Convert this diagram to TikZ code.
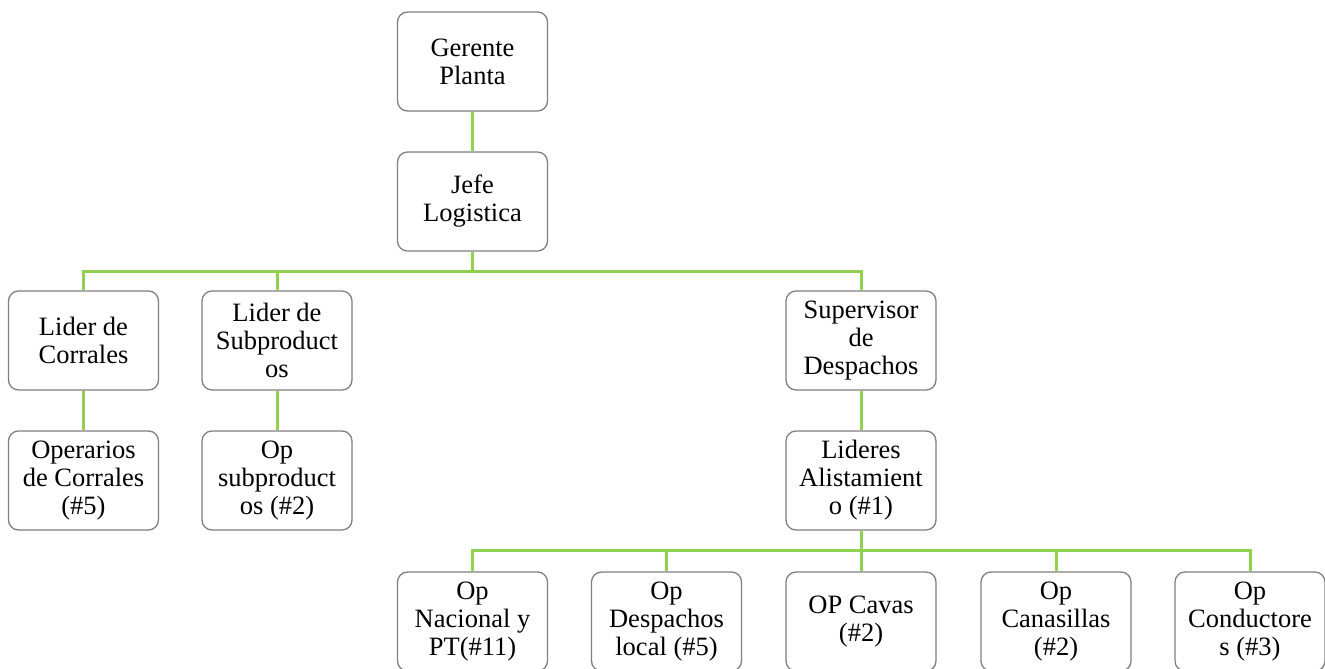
\documentclass[tikz,border=0pt]{standalone}
\usepackage{fontspec}
\newfontfamily\boxfont{LiberationSerif-Regular.ttf}
\begin{document}
\begin{tikzpicture}[x=1pt,y=-1pt]
\definecolor{linkgreen}{HTML}{92D050}
\definecolor{boxgray}{HTML}{7F7F7F}
\tikzset{
  orgbox/.style={draw=boxgray, line width=1.3pt, fill=white, rounded corners=10pt,
    minimum width=150pt, minimum height=99pt, inner sep=0pt, align=center,
    font=\boxfont\fontsize{26.5}{28}\selectfont},
  link/.style={draw=linkgreen, line width=3pt},
}
\useasboundingbox (0,0) rectangle (1325,669);

\coordinate (busA) at (472.5,271);
\coordinate (busB) at (861,550);

% top of the chart
\node[orgbox] (gerente) at (472.5,61.5) {Gerente\\Planta};
\node[orgbox] (jefe) at (472.5,201.5) {Jefe\\Logistica};

% second level
\node[orgbox] (corrales) at (83.5,340.5) {Lider de\\Corrales};
\node[orgbox] (subprod) at (277,340.5) {Lider de\\Subproduct\\os};
\node[orgbox] (super) at (861,340.5) {Supervisor\\de\\Despachos};

% third level
\node[orgbox] (opcorr) at (83.5,480.5) {Operarios\\de Corrales\\(\#5)};
\node[orgbox] (opsub) at (277,480.5) {Op\\subproduct\\os (\#2)};
\node[orgbox] (lideres) at (861,480.5) {Lideres\\Alistamient\\o (\#1)};

% operators under the preparation leaders
\node[orgbox] (nac) at (472.5,621.5) {Op\\Nacional y\\PT(\#11)};
\node[orgbox] (local) at (666.5,621.5) {Op\\Despachos\\local (\#5)};
\node[orgbox] (cavas) at (861,621.5) {OP Cavas\\(\#2)};
\node[orgbox] (canas) at (1056,621.5) {Op\\Canasillas\\(\#2)};
\node[orgbox] (cond) at (1250,621.5) {Op\\Conductore\\s (\#3)};

% connectors
\draw[link] (gerente.south) -- (jefe.north);
\draw[link] (jefe.south) -- (busA);
\draw[link] (corrales.north) |- (busA);
\draw[link] (subprod.north) |- (busA);
\draw[link] (super.north) |- (busA);
\draw[link] (corrales.south) -- (opcorr.north);
\draw[link] (subprod.south) -- (opsub.north);
\draw[link] (super.south) -- (lideres.north);
\draw[link] (lideres.south) -- (cavas.north);
\draw[link] (nac.north) |- (busB);
\draw[link] (local.north) |- (busB);
\draw[link] (canas.north) |- (busB);
\draw[link] (cond.north) |- (busB);
\end{tikzpicture}
\end{document}
